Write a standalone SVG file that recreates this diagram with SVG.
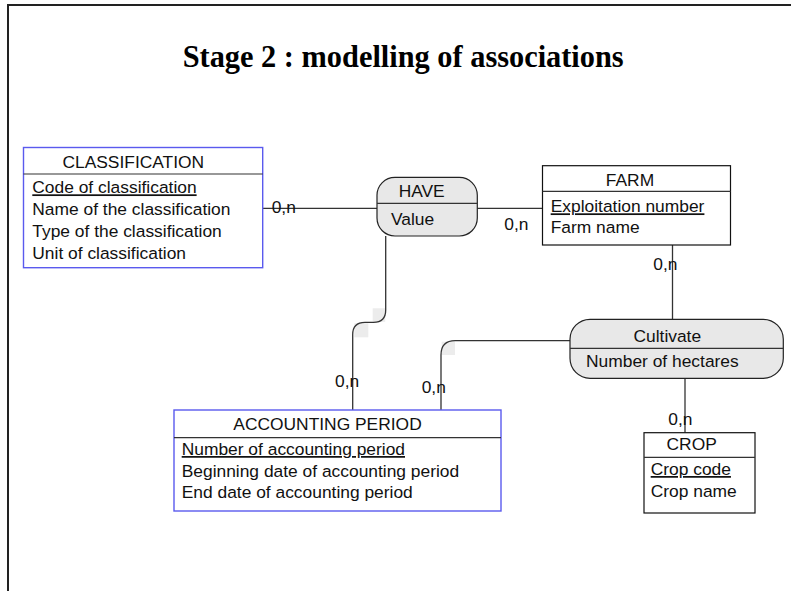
<svg xmlns="http://www.w3.org/2000/svg" width="791" height="591" viewBox="0 0 791 591">
  <style>
    .title { font-family: "Liberation Serif", "Times New Roman", serif; font-weight: bold; font-size: 31px; fill: #000; }
    .t { font-family: "Liberation Sans", Arial, sans-serif; font-size: 17.4px; fill: #111; }
    .c { text-anchor: middle; }
    .key { text-decoration: underline; }
    .ent { fill: #fff; stroke: #111; stroke-width: 1.2; }
    .ent-blue { fill: #fff; stroke: #5a5aee; stroke-width: 1.4; }
    .assoc { fill: #e8e8e8; stroke: #222; stroke-width: 1.2; }
    .div { stroke: #333; stroke-width: 1.2; }
    .link { fill: none; stroke: #333; stroke-width: 1.3; }
    .shade { fill: #ececec; }
  </style>

  <rect width="791" height="591" fill="#fff"/>
  <!-- slide frame -->
  <path d="M8,591 V5 H791" fill="none" stroke="#222" stroke-width="2"/>

  <text class="title" x="182.7" y="66.7" textLength="441" lengthAdjust="spacingAndGlyphs">Stage 2 : modelling of associations</text>

  <!-- connectors -->
  <g id="connectors">
    <rect class="shade" x="372.7" y="308.3" width="12.5" height="13.5"/>
    <rect class="shade" x="354.3" y="323.3" width="14" height="14"/>
    <rect class="shade" x="441.7" y="341.7" width="13.3" height="13.3"/>
    <path class="link" d="M263,208.3 H377"/>
    <path class="link" d="M477.3,208.3 H542.5"/>
    <path class="link" d="M385.7,236 V310 Q385.7,322.3 373.4,322.3 H365 Q352.7,322.3 352.7,334.6 V410"/>
    <path class="link" d="M441,410 V355 Q441,340.7 455.3,340.7 H570"/>
    <path class="link" d="M672.5,245 V319.3"/>
    <path class="link" d="M685,378.3 V432.7"/>
    <text class="t" x="271.7" y="213.3">0,n</text>
    <text class="t" x="504.3" y="230">0,n</text>
    <text class="t" x="653.3" y="270">0,n</text>
    <text class="t" x="335" y="387.3">0,n</text>
    <text class="t" x="421.7" y="393.3">0,n</text>
    <text class="t" x="668.3" y="425">0,n</text>
  </g>

  <g id="classification">
    <rect class="ent-blue" x="23.5" y="147.5" width="239.2" height="120.2"/>
    <line class="div" x1="23.5" y1="174" x2="262.7" y2="174"/>
    <text class="t c" x="133.3" y="168">CLASSIFICATION</text>
    <text class="t key" x="32.3" y="193.3">Code of classification</text>
    <text class="t" x="32.3" y="215">Name of the classification</text>
    <text class="t" x="32.3" y="236.7">Type of the classification</text>
    <text class="t" x="32.3" y="258.5">Unit of classification</text>
  </g>

  <g id="have">
    <rect class="assoc" x="377" y="177.3" width="100.3" height="58.7" rx="18" ry="18"/>
    <line class="div" x1="377" y1="203.3" x2="477.3" y2="203.3"/>
    <text class="t c" x="421.7" y="197.3">HAVE</text>
    <text class="t" x="391" y="225">Value</text>
  </g>

  <g id="farm">
    <rect class="ent" x="542.5" y="165.7" width="188" height="79.3"/>
    <line class="div" x1="542.5" y1="191.3" x2="730.5" y2="191.3"/>
    <text class="t c" x="630" y="185.7">FARM</text>
    <text class="t key" x="550.7" y="212.3">Exploitation number</text>
    <text class="t" x="550.7" y="233.3">Farm name</text>
  </g>

  <g id="cultivate">
    <rect class="assoc" x="570" y="319.3" width="213.3" height="59" rx="20" ry="20"/>
    <line class="div" x1="570" y1="348.3" x2="783.3" y2="348.3"/>
    <text class="t c" x="667.3" y="341.7">Cultivate</text>
    <text class="t" x="586" y="367.3">Number of hectares</text>
  </g>

  <g id="accounting-period">
    <rect class="ent-blue" x="174" y="410" width="327" height="101"/>
    <line class="div" x1="174" y1="437.7" x2="501" y2="437.7"/>
    <text class="t c" x="327.5" y="430">ACCOUNTING PERIOD</text>
    <text class="t key" x="181.7" y="455">Number of accounting period</text>
    <text class="t" x="181.7" y="476.7">Beginning date of accounting period</text>
    <text class="t" x="181.7" y="498.3">End date of accounting period</text>
  </g>

  <g id="crop">
    <rect class="ent" x="644" y="432.7" width="111" height="80.3"/>
    <line class="div" x1="644" y1="457.3" x2="755" y2="457.3"/>
    <text class="t c" x="691.7" y="450">CROP</text>
    <text class="t key" x="650.7" y="475">Crop code</text>
    <text class="t" x="650.7" y="496.7">Crop name</text>
  </g>
</svg>
